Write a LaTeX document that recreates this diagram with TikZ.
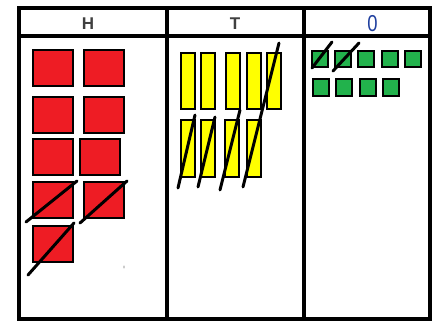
\documentclass[tikz,border=0pt]{standalone}
\usepackage{fontspec}
\setmainfont{Liberation Sans}
\definecolor{hred}{HTML}{EE1C24}
\definecolor{tyel}{HTML}{FFFF00}
\definecolor{ogrn}{HTML}{22B24C}
\definecolor{hdgray}{HTML}{404040}
\definecolor{oblue}{HTML}{1F3F9F}
\tikzset{
  frame/.style={line width=3.5pt},
  hund/.style={draw=black, line width=2.6pt, fill=hred},
  tenbar/.style={draw=black, line width=2.6pt, fill=tyel},
  one/.style={draw=black, line width=2.6pt, fill=ogrn},
  slash/.style={line width=3pt, line cap=round},
  hdr/.style={font=\fontsize{17}{17}\selectfont\bfseries, text=hdgray, inner sep=0pt}
}
\begin{document}
\begin{tikzpicture}[x=1pt,y=-1pt]
\useasboundingbox (0,0) rectangle (432,333);
\fill[white] (0,0) rectangle (432,333);
% frame
\draw[frame] (19,8) rectangle (430,319);
\draw[frame] (19,36) -- (430,36);
\draw[frame] (167,8) -- (167,319);
\draw[frame] (304,8) -- (304,319);
% headers
\node[hdr] (hH) at (88,24) {H};
\node[hdr] (hT) at (235,24) {T};
\node[font=\fontsize{23}{23}\selectfont, text=oblue, inner sep=0pt, xscale=0.8] (hO) at (372.5,23.5) {0};
% hundreds
\foreach \x/\y [count=\i] in {33/50, 84/50, 33/97, 84/97, 33/139, 80/139, 33/182, 84/182, 33/226}{
  \draw[hund] (\x,\y) rectangle ++(40,36);
}
\coordinate (h1a) at (26,222); \coordinate (h1b) at (77,181);
\coordinate (h2a) at (80,223); \coordinate (h2b) at (127,181);
\coordinate (h3a) at (28,275); \coordinate (h3b) at (74,223);
\draw[slash] (h1a) -- (h1b);
\draw[slash] (h2a) -- (h2b);
\draw[slash] (h3a) -- (h3b);
\fill[gray!60] (124,267) ellipse (0.8 and 1.8);
% tens
\foreach \x in {181,201,226,247,267}{
  \draw[tenbar] (\x,53) rectangle ++(14,56);
}
\foreach \x in {181,201,225,247}{
  \draw[tenbar] (\x,120) rectangle ++(14,57);
}
\coordinate (t1a) at (195,115); \coordinate (t1b) at (178,188);
\coordinate (t2a) at (215,117); \coordinate (t2b) at (198,187);
\coordinate (t3a) at (240,110); \coordinate (t3b) at (220,190);
\coordinate (t4a) at (279,43);  \coordinate (t4b) at (243,187);
\draw[slash] (t1a) -- (t1b);
\draw[slash] (t2a) -- (t2b);
\draw[slash] (t3a) -- (t3b);
\draw[slash] (t4a) -- (t4b);
% ones
\foreach \x in {312,335,358,382,405}{
  \draw[one] (\x,51) rectangle ++(16,16);
}
\foreach \x in {313,336,360,383}{
  \draw[one] (\x,79) rectangle ++(16,17);
}
\coordinate (o1a) at (312,68); \coordinate (o1b) at (332,42);
\coordinate (o2a) at (333,71); \coordinate (o2b) at (359,43);
\draw[slash] (o1a) -- (o1b);
\draw[slash] (o2a) -- (o2b);
\end{tikzpicture}
\end{document}
